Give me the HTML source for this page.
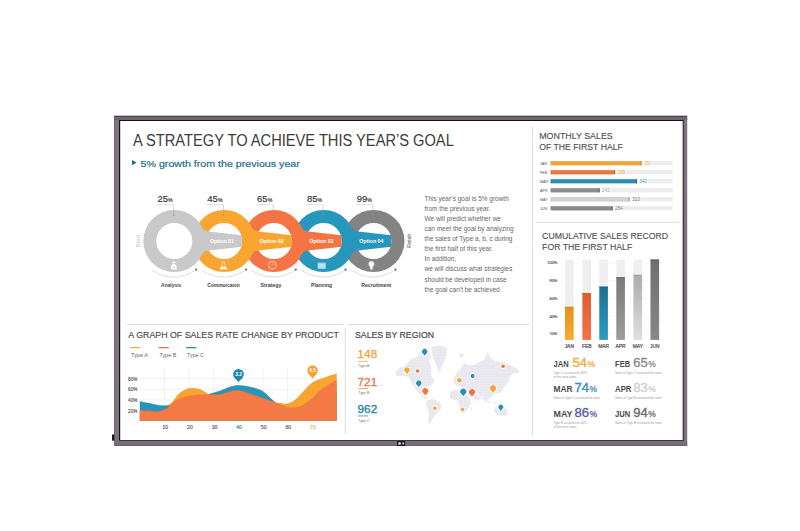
<!DOCTYPE html>
<html><head><meta charset="utf-8">
<style>
html,body{margin:0;padding:0;background:#fff;width:800px;height:531px;overflow:hidden}
svg{display:block;font-family:"Liberation Sans",sans-serif}
</style></head><body>
<svg width="800" height="531" viewBox="0 0 800 531">
<rect x="114" y="115.8" width="573.2" height="330.2" fill="#7e737f"/>
<rect x="114" y="115.8" width="573.2" height="1.3" fill="#4d434c"/>
<rect x="114" y="117.1" width="573.2" height="3" fill="#6f6470"/>
<rect x="114" y="120" width="1" height="326" fill="#6e646e"/>
<rect x="114" y="445.4" width="573.2" height=".6" fill="#5a4e58"/>
<rect x="119" y="120" width="564.6" height="321" fill="#141214"/>
<rect x="119" y="440" width="564.6" height="1" fill="#3d353d"/>
<rect x="114" y="441" width="573.2" height="4.4" fill="#776c77"/>
<rect x="120.2" y="121" width="562.5" height="319" fill="#fff"/>
<rect x="112" y="434.5" width="2.3" height="6.2" fill="#1a1a1a"/>
<rect x="397" y="441.1" width="8.2" height="4.8" rx=".6" fill="#1e1a1e"/>
<circle cx="399.6" cy="443.5" r="1.35" fill="#f4f0f4"/>
<circle cx="403.2" cy="443.5" r="1.15" fill="#b8b0b8"/>
<g stroke="#dcdcdc" stroke-width="1" fill="none">
<line x1="532.5" y1="126.5" x2="532.5" y2="435"/>
<line x1="126.6" y1="324.5" x2="343.7" y2="324.5"/><line x1="348" y1="324.5" x2="529.5" y2="324.5"/>
<line x1="345.3" y1="327.5" x2="345.3" y2="434"/>
<line x1="535" y1="222.3" x2="681" y2="222.3"/>
</g>
<text x="133" y="145.7" font-size="15.8" fill="#3c3c3c" textLength="320.8" lengthAdjust="spacingAndGlyphs">A STRATEGY TO ACHIEVE THIS YEAR’S GOAL</text>
<path d="M132 160 L136.6 162.6 L132 165.3Z" fill="#1d6a86"/>
<text x="140.6" y="166.6" font-size="9.7" fill="#236f8a" stroke="#236f8a" stroke-width=".2" textLength="159.2" lengthAdjust="spacingAndGlyphs">5% growth from the previous year</text>
<g font-size="7" fill="#666" transform="translate(424.5 0) scale(0.925 1) translate(-424.5 0)">
<text x="424.5" y="201.20">This year’s goal is 5% growth</text>
<text x="424.5" y="211.24">from the previous year.</text>
<text x="424.5" y="221.28">We will predict whether we</text>
<text x="424.5" y="231.32">can meet the goal by analyzing</text>
<text x="424.5" y="241.36">the sales of Type a, b, c during</text>
<text x="424.5" y="251.40">the first half of this year.</text>
<text x="424.5" y="261.44">In addition,</text>
<text x="424.5" y="271.48">we will discuss what strategies</text>
<text x="424.5" y="281.52">should be developed in case</text>
<text x="424.5" y="291.56">the goal can’t be achieved.</text>
</g>
<path d="M342.50 241a31 31 0 1 0 62 0a31 31 0 1 0 -62 0ZM355.50 241a18 18 0 1 1 36 0a18 18 0 1 1 -36 0Z" fill="#838383" fill-rule="evenodd"/>
<path d="M292.70 241a31 31 0 1 0 62 0a31 31 0 1 0 -62 0ZM305.70 241a18 18 0 1 1 36 0a18 18 0 1 1 -36 0Z" fill="#2797be" fill-rule="evenodd"/>
<path d="M342.70 229.76L391.30 235.25L391.30 246.75L342.70 252.24Z" fill="#2797be"/>
<path d="M351.97 228.29A4.5 4.5 0 0 0 356.08 230.94L356.08 241L343.70 241Z" fill="#2797be"/>
<path d="M351.97 253.71A4.5 4.5 0 0 1 356.08 251.06L356.08 241L343.70 241Z" fill="#2797be"/>
<path d="M242.90 241a31 31 0 1 0 62 0a31 31 0 1 0 -62 0ZM255.90 241a18 18 0 1 1 36 0a18 18 0 1 1 -36 0Z" fill="#f47443" fill-rule="evenodd"/>
<path d="M292.90 229.76L341.50 235.25L341.50 246.75L292.90 252.24Z" fill="#f47443"/>
<path d="M302.17 228.29A4.5 4.5 0 0 0 306.28 230.94L306.28 241L293.90 241Z" fill="#f47443"/>
<path d="M302.17 253.71A4.5 4.5 0 0 1 306.28 251.06L306.28 241L293.90 241Z" fill="#f47443"/>
<path d="M193.10 241a31 31 0 1 0 62 0a31 31 0 1 0 -62 0ZM206.10 241a18 18 0 1 1 36 0a18 18 0 1 1 -36 0Z" fill="#f9a532" fill-rule="evenodd"/>
<path d="M243.10 229.76L291.70 235.25L291.70 246.75L243.10 252.24Z" fill="#f9a532"/>
<path d="M252.37 228.29A4.5 4.5 0 0 0 256.48 230.94L256.48 241L244.10 241Z" fill="#f9a532"/>
<path d="M252.37 253.71A4.5 4.5 0 0 1 256.48 251.06L256.48 241L244.10 241Z" fill="#f9a532"/>
<path d="M143.30 241a31 31 0 1 0 62 0a31 31 0 1 0 -62 0ZM156.30 241a18 18 0 1 1 36 0a18 18 0 1 1 -36 0Z" fill="#c9c9c9" fill-rule="evenodd"/>
<path d="M193.30 229.76L241.90 235.25L241.90 246.75L193.30 252.24Z" fill="#c9c9c9"/>
<path d="M202.57 228.29A4.5 4.5 0 0 0 206.68 230.94L206.68 241L194.30 241Z" fill="#c9c9c9"/>
<path d="M202.57 253.71A4.5 4.5 0 0 1 206.68 251.06L206.68 241L194.30 241Z" fill="#c9c9c9"/>
<text x="209.90" y="243.20" font-size="6.2" fill="#fff" font-weight="bold" textLength="24" lengthAdjust="spacingAndGlyphs">Option 01</text>
<text x="259.70" y="243.20" font-size="6.2" fill="#fff" font-weight="bold" textLength="24" lengthAdjust="spacingAndGlyphs">Option 02</text>
<text x="309.50" y="243.20" font-size="6.2" fill="#fff" font-weight="bold" textLength="24" lengthAdjust="spacingAndGlyphs">Option 03</text>
<text x="359.30" y="243.20" font-size="6.2" fill="#fff" font-weight="bold" textLength="24" lengthAdjust="spacingAndGlyphs">Option 04</text>
<g fill="#fff">
<ellipse cx="173.80" cy="262.4" rx="1.8" ry="0.85"/>
<path d="M172.90 263.9 C170.70 265 170.50 268 171.20 269.4 L176.40 269.4 C177.10 268 176.90 265 174.70 263.9Z"/>
</g>
<text x="173.80" y="268.6" font-size="3.2" fill="#c9c9c9" text-anchor="middle">$</text>
<g fill="#fff" opacity=".92">
<path d="M222.30 261.9H224.50V264.2L226.70 269.1H220.10L222.30 264.2Z" fill="none" stroke="#fff" stroke-width=".6"/>
<path d="M221.20 266.5H225.60L226.70 269.1H220.10Z"/>
</g>
<g stroke="#ffd9c6" fill="none" stroke-width=".9">
<circle cx="272.30" cy="265.2" r="3.9"/>
<path d="M272.30 262.7V265.4L270.90 266.6" stroke-width=".6"/>
</g>
<rect x="317.80" y="262.8" width="7.8" height="5.9" fill="#c3e8f4"/>
<rect x="317.80" y="262.8" width="7.8" height="0.9" fill="#8fd0e6"/>
<g stroke="#9ed7ea" stroke-width=".35"><path d="M320.40 264V268.5M323.00 264V268.5M317.80 265.8H325.60M317.80 267.3H325.60"/></g>
<g fill="#fff">
<circle cx="371.40" cy="264.1" r="2.8"/>
<rect x="370.20" y="266.2" width="2.4" height="3.3" rx=".5"/>
</g>
<g stroke="#bbb" stroke-width=".45"><path d="M371.40 260V260.9M367.90 262L368.50 262.5M374.90 262L374.30 262.5M367.20 264.5H367.90M375.60 264.5H374.90"/></g>
<text x="157.50" y="202.2" font-size="8.7" fill="#333" stroke="#333" stroke-width=".15" textLength="10.5" lengthAdjust="spacingAndGlyphs">25</text>
<text x="168.10" y="202.3" font-size="5" fill="#333" stroke="#333" stroke-width=".15" textLength="4.6" lengthAdjust="spacingAndGlyphs">%</text>
<path d="M156.70 204.6H173.70" stroke="#999" stroke-width=".5" fill="none" stroke-dasharray=".7 .5"/>
<path d="M173.70 204.6V215" stroke="#a0a0a0" stroke-width=".45" fill="none"/>
<circle cx="173.70" cy="215" r=".9" fill="#888" opacity=".5"/>
<path d="M152.30 270.4Q174.30 284 196.30 269.6" stroke="#888" stroke-width=".6" fill="none" stroke-dasharray=".8 .8"/>
<path d="M194.80 268.6L197.60 268.9L196.10 271.3Z" fill="#666"/>
<text x="161.10" y="286.8" font-size="5.5" fill="#444" font-weight="bold" textLength="20.2" lengthAdjust="spacingAndGlyphs">Analysis</text>
<text x="207.30" y="202.2" font-size="8.7" fill="#333" stroke="#333" stroke-width=".15" textLength="10.5" lengthAdjust="spacingAndGlyphs">45</text>
<text x="217.90" y="202.3" font-size="5" fill="#333" stroke="#333" stroke-width=".15" textLength="4.6" lengthAdjust="spacingAndGlyphs">%</text>
<path d="M206.50 204.6H223.50" stroke="#999" stroke-width=".5" fill="none" stroke-dasharray=".7 .5"/>
<path d="M223.50 204.6V215" stroke="#a0a0a0" stroke-width=".45" fill="none"/>
<circle cx="223.50" cy="215" r=".9" fill="#888" opacity=".5"/>
<path d="M202.10 270.4Q224.10 284 246.10 269.6" stroke="#888" stroke-width=".6" fill="none" stroke-dasharray=".8 .8"/>
<path d="M244.60 268.6L247.40 268.9L245.90 271.3Z" fill="#666"/>
<text x="207.20" y="286.8" font-size="5.5" fill="#444" font-weight="bold" textLength="32.7" lengthAdjust="spacingAndGlyphs">Commuicaion</text>
<text x="257.10" y="202.2" font-size="8.7" fill="#333" stroke="#333" stroke-width=".15" textLength="10.5" lengthAdjust="spacingAndGlyphs">65</text>
<text x="267.70" y="202.3" font-size="5" fill="#333" stroke="#333" stroke-width=".15" textLength="4.6" lengthAdjust="spacingAndGlyphs">%</text>
<path d="M256.30 204.6H273.30" stroke="#999" stroke-width=".5" fill="none" stroke-dasharray=".7 .5"/>
<path d="M273.30 204.6V215" stroke="#a0a0a0" stroke-width=".45" fill="none"/>
<circle cx="273.30" cy="215" r=".9" fill="#888" opacity=".5"/>
<path d="M251.90 270.4Q273.90 284 295.90 269.6" stroke="#888" stroke-width=".6" fill="none" stroke-dasharray=".8 .8"/>
<path d="M294.40 268.6L297.20 268.9L295.70 271.3Z" fill="#666"/>
<text x="260.40" y="286.8" font-size="5.5" fill="#444" font-weight="bold" textLength="21" lengthAdjust="spacingAndGlyphs">Strategy</text>
<text x="306.90" y="202.2" font-size="8.7" fill="#333" stroke="#333" stroke-width=".15" textLength="10.5" lengthAdjust="spacingAndGlyphs">85</text>
<text x="317.50" y="202.3" font-size="5" fill="#333" stroke="#333" stroke-width=".15" textLength="4.6" lengthAdjust="spacingAndGlyphs">%</text>
<path d="M306.10 204.6H323.10" stroke="#999" stroke-width=".5" fill="none" stroke-dasharray=".7 .5"/>
<path d="M323.10 204.6V215" stroke="#a0a0a0" stroke-width=".45" fill="none"/>
<circle cx="323.10" cy="215" r=".9" fill="#888" opacity=".5"/>
<path d="M301.70 270.4Q323.70 284 345.70 269.6" stroke="#888" stroke-width=".6" fill="none" stroke-dasharray=".8 .8"/>
<path d="M344.20 268.6L347.00 268.9L345.50 271.3Z" fill="#666"/>
<text x="311.10" y="286.8" font-size="5.5" fill="#444" font-weight="bold" textLength="21" lengthAdjust="spacingAndGlyphs">Planning</text>
<text x="356.70" y="202.2" font-size="8.7" fill="#333" stroke="#333" stroke-width=".15" textLength="10.5" lengthAdjust="spacingAndGlyphs">99</text>
<text x="367.30" y="202.3" font-size="5" fill="#333" stroke="#333" stroke-width=".15" textLength="4.6" lengthAdjust="spacingAndGlyphs">%</text>
<path d="M355.90 204.6H372.90" stroke="#999" stroke-width=".5" fill="none" stroke-dasharray=".7 .5"/>
<path d="M372.90 204.6V215" stroke="#a0a0a0" stroke-width=".45" fill="none"/>
<circle cx="372.90" cy="215" r=".9" fill="#888" opacity=".5"/>
<path d="M351.50 270.4Q373.50 284 395.50 269.6" stroke="#888" stroke-width=".6" fill="none" stroke-dasharray=".8 .8"/>
<path d="M394.00 268.6L396.80 268.9L395.30 271.3Z" fill="#666"/>
<text x="361.20" y="286.8" font-size="5.5" fill="#444" font-weight="bold" textLength="30.1" lengthAdjust="spacingAndGlyphs">Recruitment</text>
<text transform="translate(139.9 240.9) rotate(-90)" font-size="5.6" font-weight="bold" fill="#cdcdcd" text-anchor="middle" textLength="13.1" lengthAdjust="spacingAndGlyphs">Start</text>
<text transform="translate(411.2 240.8) rotate(-90)" font-size="5.9" font-weight="bold" fill="#7a7a7a" text-anchor="middle" textLength="13.9" lengthAdjust="spacingAndGlyphs">Finish</text>
<text x="539.2" y="139.4" font-size="9.1" fill="#4e4e4e" stroke="#4e4e4e" stroke-width=".12" textLength="73.6" lengthAdjust="spacingAndGlyphs">MONTHLY SALES</text>
<text x="539.2" y="150.1" font-size="9.1" fill="#4e4e4e" stroke="#4e4e4e" stroke-width=".12" textLength="83.7" lengthAdjust="spacingAndGlyphs">OF THE FIRST HALF</text>
<rect x="550.6" y="161.10" width="122.0" height="4.2" fill="#ececec"/>
<rect x="641.80" y="161.10" width="10.5" height="4.2" fill="#fff"/>
<rect x="550.85" y="161.35" width="90.40" height="3.7" fill="#f8a435" stroke="#d98a22" stroke-width=".5" stroke-opacity=".6"/>
<rect x="640.40" y="161.10" width="1.1" height="4.2" fill="#d98a22"/>
<text x="644.00" y="164.80" font-size="4.6" fill="#e6b36a">358</text>
<text x="540" y="164.50" font-size="3.7" fill="#555">JAN</text>
<rect x="550.6" y="170.12" width="122.0" height="4.2" fill="#ececec"/>
<rect x="615.40" y="170.12" width="10.5" height="4.2" fill="#fff"/>
<rect x="550.85" y="170.37" width="64.00" height="3.7" fill="#f4733f" stroke="#d85a2a" stroke-width=".5" stroke-opacity=".6"/>
<rect x="614.00" y="170.12" width="1.1" height="4.2" fill="#d85a2a"/>
<text x="617.60" y="173.82" font-size="4.6" fill="#ec8c64">289</text>
<text x="540" y="173.52" font-size="3.7" fill="#555">FEB</text>
<rect x="550.6" y="179.14" width="122.0" height="4.2" fill="#ececec"/>
<rect x="637.30" y="179.14" width="10.5" height="4.2" fill="#fff"/>
<rect x="550.85" y="179.39" width="85.90" height="3.7" fill="#2690b6" stroke="#176e8f" stroke-width=".5" stroke-opacity=".6"/>
<rect x="635.90" y="179.14" width="1.1" height="4.2" fill="#176e8f"/>
<text x="639.50" y="182.84" font-size="4.6" fill="#3d93b8">342</text>
<text x="540" y="182.54" font-size="3.7" fill="#555">MAR</text>
<rect x="550.6" y="188.16" width="122.0" height="4.2" fill="#ececec"/>
<rect x="599.90" y="188.16" width="10.5" height="4.2" fill="#fff"/>
<rect x="550.85" y="188.41" width="48.50" height="3.7" fill="#8e8e8e" stroke="#666" stroke-width=".5" stroke-opacity=".6"/>
<rect x="598.50" y="188.16" width="1.1" height="4.2" fill="#666"/>
<text x="602.10" y="191.86" font-size="4.6" fill="#999">242</text>
<text x="540" y="191.56" font-size="3.7" fill="#555">APR</text>
<rect x="550.6" y="197.18" width="122.0" height="4.2" fill="#ececec"/>
<rect x="630.10" y="197.18" width="10.5" height="4.2" fill="#fff"/>
<rect x="550.85" y="197.43" width="78.70" height="3.7" fill="#d2d2d2" stroke="#aaa" stroke-width=".5" stroke-opacity=".6"/>
<rect x="628.70" y="197.18" width="1.1" height="4.2" fill="#aaa"/>
<text x="632.30" y="200.88" font-size="4.6" fill="#666">310</text>
<text x="540" y="200.58" font-size="3.7" fill="#555">MAY</text>
<rect x="550.6" y="206.20" width="122.0" height="4.2" fill="#ececec"/>
<rect x="612.90" y="206.20" width="10.5" height="4.2" fill="#fff"/>
<rect x="550.85" y="206.45" width="61.50" height="3.7" fill="#8a8a8a" stroke="#6a6a6a" stroke-width=".5" stroke-opacity=".6"/>
<rect x="611.50" y="206.20" width="1.1" height="4.2" fill="#6a6a6a"/>
<text x="615.10" y="209.90" font-size="4.6" fill="#666">284</text>
<text x="540" y="209.60" font-size="3.7" fill="#555">JUN</text>
<text x="542.1" y="239.1" font-size="9.1" fill="#4e4e4e" stroke="#4e4e4e" stroke-width=".12" textLength="126" lengthAdjust="spacingAndGlyphs">CUMULATIVE SALES RECORD</text>
<text x="542.1" y="249.7" font-size="9.1" fill="#4e4e4e" stroke="#4e4e4e" stroke-width=".12" textLength="90.2" lengthAdjust="spacingAndGlyphs">FOR THE FIRST HALF</text>
<line x1="560" y1="262.70" x2="666" y2="262.70" stroke="#eee" stroke-width=".6" stroke-dasharray="1.5 1"/>
<text x="557.3" y="264.00" font-size="3.9" fill="#444" stroke="#444" stroke-width=".12" text-anchor="end">100%</text>
<line x1="560" y1="280.55" x2="666" y2="280.55" stroke="#eee" stroke-width=".6" stroke-dasharray="1.5 1"/>
<text x="557.3" y="281.85" font-size="3.9" fill="#444" stroke="#444" stroke-width=".12" text-anchor="end">80%</text>
<line x1="560" y1="298.40" x2="666" y2="298.40" stroke="#eee" stroke-width=".6" stroke-dasharray="1.5 1"/>
<text x="557.3" y="299.70" font-size="3.9" fill="#444" stroke="#444" stroke-width=".12" text-anchor="end">60%</text>
<line x1="560" y1="316.25" x2="666" y2="316.25" stroke="#eee" stroke-width=".6" stroke-dasharray="1.5 1"/>
<text x="557.3" y="317.55" font-size="3.9" fill="#444" stroke="#444" stroke-width=".12" text-anchor="end">40%</text>
<line x1="560" y1="334.10" x2="666" y2="334.10" stroke="#eee" stroke-width=".6" stroke-dasharray="1.5 1"/>
<text x="557.3" y="335.40" font-size="3.9" fill="#444" stroke="#444" stroke-width=".12" text-anchor="end">20%</text>
<defs>
<linearGradient id="cg0" x1="0" y1="0" x2="0" y2="1"><stop offset="0" stop-color="#e2921f"/><stop offset="1" stop-color="#fbaa2c"/></linearGradient>
<linearGradient id="cg1" x1="0" y1="0" x2="0" y2="1"><stop offset="0" stop-color="#db5e31"/><stop offset="1" stop-color="#f57343"/></linearGradient>
<linearGradient id="cg2" x1="0" y1="0" x2="0" y2="1"><stop offset="0" stop-color="#1d6f90"/><stop offset="1" stop-color="#2a9dc2"/></linearGradient>
<linearGradient id="cg3" x1="0" y1="0" x2="0" y2="1"><stop offset="0" stop-color="#7a7a7a"/><stop offset="1" stop-color="#9c9c9c"/></linearGradient>
<linearGradient id="cg4" x1="0" y1="0" x2="0" y2="1"><stop offset="0" stop-color="#ababab"/><stop offset="1" stop-color="#e0e0e0"/></linearGradient>
<linearGradient id="cg5" x1="0" y1="0" x2="0" y2="1"><stop offset="0" stop-color="#6e6e6e"/><stop offset="1" stop-color="#888888"/></linearGradient>
</defs>
<rect x="565" y="259.6" width="8.6" height="80.3" fill="#efefef"/>
<rect x="565" y="306.5" width="8.6" height="33.4" fill="url(#cg0)"/>
<rect x="565" y="306.5" width="8.6" height="1" fill="#d0851a"/>
<rect x="565" y="305.8" width="8.6" height=".7" fill="#fff" opacity=".9"/>
<text x="569.30" y="347.5" font-size="4.9" fill="#555" stroke="#555" stroke-width=".22" text-anchor="middle">JAN</text>
<rect x="582.4" y="259.6" width="8.6" height="80.3" fill="#efefef"/>
<rect x="582.4" y="292.8" width="8.6" height="47.1" fill="url(#cg1)"/>
<rect x="582.4" y="292.8" width="8.6" height="1" fill="#cf5a2e"/>
<rect x="582.4" y="292.1" width="8.6" height=".7" fill="#fff" opacity=".9"/>
<text x="586.70" y="347.5" font-size="4.9" fill="#555" stroke="#555" stroke-width=".22" text-anchor="middle">FEB</text>
<rect x="599.3" y="259.6" width="8.6" height="80.3" fill="#efefef"/>
<rect x="599.3" y="286.4" width="8.6" height="53.5" fill="url(#cg2)"/>
<rect x="599.3" y="286.4" width="8.6" height="1" fill="#185f7c"/>
<rect x="599.3" y="285.7" width="8.6" height=".7" fill="#fff" opacity=".9"/>
<text x="603.60" y="347.5" font-size="4.9" fill="#555" stroke="#555" stroke-width=".22" text-anchor="middle">MAR</text>
<rect x="616.3" y="259.6" width="8.6" height="80.3" fill="#efefef"/>
<rect x="616.3" y="276.9" width="8.6" height="63.0" fill="url(#cg3)"/>
<rect x="616.3" y="276.9" width="8.6" height="1" fill="#6a6a6a"/>
<rect x="616.3" y="276.2" width="8.6" height=".7" fill="#fff" opacity=".9"/>
<text x="620.60" y="347.5" font-size="4.9" fill="#555" stroke="#555" stroke-width=".22" text-anchor="middle">APR</text>
<rect x="633.5" y="259.6" width="8.6" height="80.3" fill="#efefef"/>
<rect x="633.5" y="274.5" width="8.6" height="65.4" fill="url(#cg4)"/>
<rect x="633.5" y="274.5" width="8.6" height="1" fill="#a0a0a0"/>
<rect x="633.5" y="273.8" width="8.6" height=".7" fill="#fff" opacity=".9"/>
<text x="637.80" y="347.5" font-size="4.9" fill="#555" stroke="#555" stroke-width=".22" text-anchor="middle">MAY</text>
<rect x="650.5" y="259.6" width="8.6" height="80.3" fill="#efefef"/>
<rect x="650.5" y="259.6" width="8.6" height="80.3" fill="url(#cg5)"/>
<rect x="650.5" y="259.6" width="8.6" height="1" fill="#5e5e5e"/>
<text x="654.80" y="347.5" font-size="4.9" fill="#555" stroke="#555" stroke-width=".22" text-anchor="middle">JUN</text>
<text x="553.5" y="366.6" font-size="8.2" font-weight="bold" fill="#4a4a4a" textLength="15.1" lengthAdjust="spacingAndGlyphs">JAN</text>
<text x="572.5" y="366.6" font-size="13" fill="#f6a93c" stroke="#f6a93c" stroke-width=".35" textLength="14.5" lengthAdjust="spacingAndGlyphs">54</text>
<text x="587.5" y="366.6" font-size="8.5" fill="#f6a93c" stroke="#f6a93c" stroke-width=".25" textLength="7.6" lengthAdjust="spacingAndGlyphs">%</text>
<text x="553.5" y="373.50" font-size="3.3" fill="#999" textLength="33.3" lengthAdjust="spacingAndGlyphs">Type C accounts for 30%</text>
<text x="553.5" y="377.60" font-size="3.3" fill="#999" textLength="23.8" lengthAdjust="spacingAndGlyphs">of the total sales.</text>
<text x="615.1" y="366.6" font-size="8.2" font-weight="bold" fill="#4a4a4a" textLength="15.1" lengthAdjust="spacingAndGlyphs">FEB</text>
<text x="633.3" y="366.6" font-size="13" fill="#8a8a8a" stroke="#8a8a8a" stroke-width=".35" textLength="14.5" lengthAdjust="spacingAndGlyphs">65</text>
<text x="648.3" y="366.6" font-size="8.5" fill="#8a8a8a" stroke="#8a8a8a" stroke-width=".25" textLength="7.6" lengthAdjust="spacingAndGlyphs">%</text>
<text x="615.1" y="373.50" font-size="3.3" fill="#999" textLength="47.2" lengthAdjust="spacingAndGlyphs">Sales of Type C increased the most.</text>
<text x="553.5" y="391.9" font-size="8.2" font-weight="bold" fill="#4a4a4a" textLength="19" lengthAdjust="spacingAndGlyphs">MAR</text>
<text x="574.6" y="391.9" font-size="13" fill="#3b8db6" stroke="#3b8db6" stroke-width=".35" textLength="14.5" lengthAdjust="spacingAndGlyphs">74</text>
<text x="589.6" y="391.9" font-size="8.5" fill="#3b8db6" stroke="#3b8db6" stroke-width=".25" textLength="7.6" lengthAdjust="spacingAndGlyphs">%</text>
<text x="553.5" y="398.80" font-size="3.3" fill="#999" textLength="47.2" lengthAdjust="spacingAndGlyphs">Sales of Type C increased the most.</text>
<text x="615.1" y="391.9" font-size="8.2" font-weight="bold" fill="#4a4a4a" textLength="16.3" lengthAdjust="spacingAndGlyphs">APR</text>
<text x="633.3" y="391.9" font-size="13" fill="#cfcfcf" stroke="#cfcfcf" stroke-width=".35" textLength="14.5" lengthAdjust="spacingAndGlyphs">83</text>
<text x="648.3" y="391.9" font-size="8.5" fill="#cfcfcf" stroke="#cfcfcf" stroke-width=".25" textLength="7.6" lengthAdjust="spacingAndGlyphs">%</text>
<text x="615.1" y="398.80" font-size="3.3" fill="#999" textLength="47.2" lengthAdjust="spacingAndGlyphs">Sales of Type B increased the most.</text>
<text x="553.5" y="417.3" font-size="8.2" font-weight="bold" fill="#4a4a4a" textLength="19" lengthAdjust="spacingAndGlyphs">MAY</text>
<text x="574.6" y="417.3" font-size="13" fill="#5a5a9c" stroke="#5a5a9c" stroke-width=".35" textLength="14.5" lengthAdjust="spacingAndGlyphs">86</text>
<text x="589.6" y="417.3" font-size="8.5" fill="#5a5a9c" stroke="#5a5a9c" stroke-width=".25" textLength="7.6" lengthAdjust="spacingAndGlyphs">%</text>
<text x="553.5" y="424.20" font-size="3.3" fill="#999" textLength="33.3" lengthAdjust="spacingAndGlyphs">Type B accounts for 40%</text>
<text x="553.5" y="428.30" font-size="3.3" fill="#999" textLength="23.8" lengthAdjust="spacingAndGlyphs">of the total sales.</text>
<text x="615.1" y="417.3" font-size="8.2" font-weight="bold" fill="#4a4a4a" textLength="15.1" lengthAdjust="spacingAndGlyphs">JUN</text>
<text x="633.3" y="417.3" font-size="13" fill="#6a6a6a" stroke="#6a6a6a" stroke-width=".35" textLength="14.5" lengthAdjust="spacingAndGlyphs">94</text>
<text x="648.3" y="417.3" font-size="8.5" fill="#6a6a6a" stroke="#6a6a6a" stroke-width=".25" textLength="7.6" lengthAdjust="spacingAndGlyphs">%</text>
<text x="615.1" y="424.20" font-size="3.3" fill="#999" textLength="47.2" lengthAdjust="spacingAndGlyphs">Sales of Type B increased the most.</text>
<text x="128.3" y="337.9" font-size="9.2" fill="#4a4a4a" stroke="#4a4a4a" stroke-width=".15" textLength="210.5" lengthAdjust="spacingAndGlyphs">A GRAPH OF SALES RATE CHANGE BY PRODUCT</text>
<rect x="130.2" y="347" width="10.2" height="1.3" fill="#f2ad4c"/>
<text x="131.0" y="356.6" font-size="6" fill="#666" textLength="16.9" lengthAdjust="spacingAndGlyphs">Type A</text>
<rect x="158.6" y="347" width="10.2" height="1.3" fill="#ea7448"/>
<text x="159.4" y="356.6" font-size="6" fill="#666" textLength="16.9" lengthAdjust="spacingAndGlyphs">Type B</text>
<rect x="186.2" y="347" width="10.2" height="1.3" fill="#2b8db0"/>
<text x="187.0" y="356.6" font-size="6" fill="#666" textLength="16.9" lengthAdjust="spacingAndGlyphs">Type C</text>
<line x1="139.8" y1="378.7" x2="336.7" y2="378.7" stroke="#e4e4e4" stroke-width=".5"/>
<text x="128.1" y="380.6" font-size="5.1" fill="#4a4a4a" stroke="#4a4a4a" stroke-width=".12" textLength="9.3" lengthAdjust="spacingAndGlyphs">80%</text>
<line x1="139.8" y1="389.3" x2="336.7" y2="389.3" stroke="#e4e4e4" stroke-width=".5"/>
<text x="128.1" y="391.2" font-size="5.1" fill="#4a4a4a" stroke="#4a4a4a" stroke-width=".12" textLength="9.3" lengthAdjust="spacingAndGlyphs">60%</text>
<line x1="139.8" y1="400.0" x2="336.7" y2="400.0" stroke="#e4e4e4" stroke-width=".5"/>
<text x="128.1" y="401.9" font-size="5.1" fill="#4a4a4a" stroke="#4a4a4a" stroke-width=".12" textLength="9.3" lengthAdjust="spacingAndGlyphs">40%</text>
<line x1="139.8" y1="410.7" x2="336.7" y2="410.7" stroke="#e4e4e4" stroke-width=".5"/>
<text x="128.1" y="412.6" font-size="5.1" fill="#4a4a4a" stroke="#4a4a4a" stroke-width=".12" textLength="9.3" lengthAdjust="spacingAndGlyphs">20%</text>
<line x1="164.6" y1="367.5" x2="164.6" y2="420.8" stroke="#e4e4e4" stroke-width=".5"/>
<text x="165.3" y="428.5" font-size="5.1" fill="#555" stroke="#555" stroke-width=".15" text-anchor="middle">10</text>
<line x1="189.2" y1="367.5" x2="189.2" y2="420.8" stroke="#e4e4e4" stroke-width=".5"/>
<text x="189.9" y="428.5" font-size="5.1" fill="#555" stroke="#555" stroke-width=".15" text-anchor="middle">20</text>
<line x1="213.8" y1="367.5" x2="213.8" y2="420.8" stroke="#e4e4e4" stroke-width=".5"/>
<text x="214.5" y="428.5" font-size="5.1" fill="#555" stroke="#555" stroke-width=".15" text-anchor="middle">30</text>
<line x1="238.4" y1="367.5" x2="238.4" y2="420.8" stroke="#e4e4e4" stroke-width=".5"/>
<text x="239.1" y="428.5" font-size="5.1" fill="#2b8db0" stroke="#2b8db0" stroke-width=".15" text-anchor="middle">40</text>
<line x1="263.0" y1="367.5" x2="263.0" y2="420.8" stroke="#e4e4e4" stroke-width=".5"/>
<text x="263.7" y="428.5" font-size="5.1" fill="#555" stroke="#555" stroke-width=".15" text-anchor="middle">50</text>
<line x1="287.6" y1="367.5" x2="287.6" y2="420.8" stroke="#e4e4e4" stroke-width=".5"/>
<text x="288.3" y="428.5" font-size="5.1" fill="#555" stroke="#555" stroke-width=".15" text-anchor="middle">60</text>
<line x1="312.2" y1="367.5" x2="312.2" y2="420.8" stroke="#e4e4e4" stroke-width=".5"/>
<text x="312.9" y="428.5" font-size="5.1" fill="#f2ad4c" stroke="#f2ad4c" stroke-width=".15" text-anchor="middle">70</text>
<path d="M139.80 412.00C141.50 411.83 146.63 411.50 150.00 411.00C153.37 410.50 157.17 409.83 160.00 409.00C162.83 408.17 164.88 407.18 167.00 406.00C169.12 404.82 170.72 403.90 172.70 401.90C174.68 399.90 176.57 396.12 178.90 394.00C181.23 391.88 184.37 390.15 186.70 389.20C189.03 388.25 190.70 388.23 192.90 388.30C195.10 388.37 197.72 388.87 199.90 389.60C202.08 390.33 204.32 391.80 206.00 392.70C207.68 393.60 207.67 394.28 210.00 395.00C212.33 395.72 215.00 397.00 220.00 397.00C225.00 397.00 233.33 394.83 240.00 395.00C246.67 395.17 254.67 396.73 260.00 398.00C265.33 399.27 268.67 401.73 272.00 402.60C275.33 403.47 277.53 402.97 280.00 403.20C282.47 403.43 284.35 404.47 286.80 404.00C289.25 403.53 292.07 402.32 294.70 400.40C297.33 398.48 300.35 394.85 302.60 392.50C304.85 390.15 306.32 388.08 308.20 386.30C310.08 384.52 312.02 382.93 313.90 381.80C315.78 380.67 317.23 380.35 319.50 379.50C321.77 378.65 324.63 377.65 327.50 376.70C330.37 375.75 335.17 374.28 336.70 373.80L336.7 420.8L139.8 420.8Z" fill="#f8a431"/>
<path d="M139.80 412.00C141.50 411.83 146.63 411.50 150.00 411.00C153.37 410.50 157.17 409.83 160.00 409.00C162.83 408.17 164.88 407.18 167.00 406.00C169.12 404.82 170.72 403.90 172.70 401.90C174.68 399.90 176.57 396.12 178.90 394.00C181.23 391.88 184.37 390.15 186.70 389.20C189.03 388.25 190.70 388.23 192.90 388.30C195.10 388.37 197.72 388.87 199.90 389.60C202.08 390.33 204.32 391.80 206.00 392.70C207.68 393.60 207.67 394.28 210.00 395.00C212.33 395.72 215.00 397.00 220.00 397.00C225.00 397.00 233.33 394.83 240.00 395.00C246.67 395.17 254.67 396.73 260.00 398.00C265.33 399.27 268.67 401.73 272.00 402.60C275.33 403.47 277.53 402.97 280.00 403.20C282.47 403.43 284.35 404.47 286.80 404.00C289.25 403.53 292.07 402.32 294.70 400.40C297.33 398.48 300.35 394.85 302.60 392.50C304.85 390.15 306.32 388.08 308.20 386.30C310.08 384.52 312.02 382.93 313.90 381.80C315.78 380.67 317.23 380.35 319.50 379.50C321.77 378.65 324.63 377.65 327.50 376.70C330.37 375.75 335.17 374.28 336.70 373.80" fill="none" stroke="#e8942a" stroke-width=".5"/>
<path d="M139.80 401.50C141.50 401.85 146.85 402.95 150.00 403.60C153.15 404.25 155.78 405.03 158.70 405.40C161.62 405.77 165.28 405.70 167.50 405.80C169.72 405.90 169.92 406.30 172.00 406.00C174.08 405.70 177.00 405.17 180.00 404.00C183.00 402.83 186.67 400.17 190.00 399.00C193.33 397.83 197.33 397.50 200.00 397.00C202.67 396.50 204.33 396.50 206.00 396.00C207.67 395.50 207.67 394.83 210.00 394.00C212.33 393.17 216.67 392.17 220.00 391.00C223.33 389.83 226.83 387.92 230.00 387.00C233.17 386.08 235.67 385.50 239.00 385.50C242.33 385.50 246.50 386.25 250.00 387.00C253.50 387.75 257.33 388.83 260.00 390.00C262.67 391.17 263.67 392.08 266.00 394.00C268.33 395.92 271.67 399.50 274.00 401.50C276.33 403.50 277.33 404.58 280.00 406.00C282.67 407.42 285.00 410.00 290.00 410.00C295.00 410.00 302.22 409.00 310.00 406.00C317.78 403.00 332.25 394.33 336.70 392.00L336.7 420.8L139.8 420.8Z" fill="#2795b9"/>
<path d="M139.80 401.50C141.50 401.85 146.85 402.95 150.00 403.60C153.15 404.25 155.78 405.03 158.70 405.40C161.62 405.77 165.28 405.70 167.50 405.80C169.72 405.90 169.92 406.30 172.00 406.00C174.08 405.70 177.00 405.17 180.00 404.00C183.00 402.83 186.67 400.17 190.00 399.00C193.33 397.83 197.33 397.50 200.00 397.00C202.67 396.50 204.33 396.50 206.00 396.00C207.67 395.50 207.67 394.83 210.00 394.00C212.33 393.17 216.67 392.17 220.00 391.00C223.33 389.83 226.83 387.92 230.00 387.00C233.17 386.08 235.67 385.50 239.00 385.50C242.33 385.50 246.50 386.25 250.00 387.00C253.50 387.75 257.33 388.83 260.00 390.00C262.67 391.17 263.67 392.08 266.00 394.00C268.33 395.92 271.67 399.50 274.00 401.50C276.33 403.50 277.33 404.58 280.00 406.00C282.67 407.42 285.00 410.00 290.00 410.00C295.00 410.00 302.22 409.00 310.00 406.00C317.78 403.00 332.25 394.33 336.70 392.00" fill="none" stroke="#1f7fa0" stroke-width=".5"/>
<path d="M139.80 410.60C141.50 410.67 146.85 410.85 150.00 411.00C153.15 411.15 155.78 412.00 158.70 411.50C161.62 411.00 165.17 409.43 167.50 408.00C169.83 406.57 170.80 404.37 172.70 402.90C174.60 401.43 176.12 400.32 178.90 399.20C181.68 398.08 185.47 396.92 189.40 396.20C193.33 395.48 198.87 395.20 202.50 394.90C206.13 394.60 208.28 394.47 211.20 394.40C214.12 394.33 216.87 394.98 220.00 394.50C223.13 394.02 227.00 392.17 230.00 391.50C233.00 390.83 235.50 390.42 238.00 390.50C240.50 390.58 242.17 391.17 245.00 392.00C247.83 392.83 251.67 394.33 255.00 395.50C258.33 396.67 261.67 397.83 265.00 399.00C268.33 400.17 271.37 401.13 275.00 402.50C278.63 403.87 283.52 406.32 286.80 407.20C290.08 408.08 292.07 408.08 294.70 407.80C297.33 407.52 299.78 406.92 302.60 405.50C305.42 404.08 308.78 401.65 311.60 399.30C314.42 396.95 316.85 393.67 319.50 391.40C322.15 389.13 324.63 387.50 327.50 385.70C330.37 383.90 335.17 381.45 336.70 380.60L336.7 420.8L139.8 420.8Z" fill="#f47a45"/>
<path d="M139.80 410.60C141.50 410.67 146.85 410.85 150.00 411.00C153.15 411.15 155.78 412.00 158.70 411.50C161.62 411.00 165.17 409.43 167.50 408.00C169.83 406.57 170.80 404.37 172.70 402.90C174.60 401.43 176.12 400.32 178.90 399.20C181.68 398.08 185.47 396.92 189.40 396.20C193.33 395.48 198.87 395.20 202.50 394.90C206.13 394.60 208.28 394.47 211.20 394.40C214.12 394.33 216.87 394.98 220.00 394.50C223.13 394.02 227.00 392.17 230.00 391.50C233.00 390.83 235.50 390.42 238.00 390.50C240.50 390.58 242.17 391.17 245.00 392.00C247.83 392.83 251.67 394.33 255.00 395.50C258.33 396.67 261.67 397.83 265.00 399.00C268.33 400.17 271.37 401.13 275.00 402.50C278.63 403.87 283.52 406.32 286.80 407.20C290.08 408.08 292.07 408.08 294.70 407.80C297.33 407.52 299.78 406.92 302.60 405.50C305.42 404.08 308.78 401.65 311.60 399.30C314.42 396.95 316.85 393.67 319.50 391.40C322.15 389.13 324.63 387.50 327.50 385.70C330.37 383.90 335.17 381.45 336.70 380.60" fill="none" stroke="#f06a38" stroke-width=".5"/>
<path d="M238.50 381.90L234.70 378.14A5.4 5.4 0 1 1 242.30 378.14Z" fill="#2189ab"/>
<text x="238.50" y="375.80" font-size="4.8" fill="#fff" font-weight="bold" text-anchor="middle">3.2</text>
<path d="M312.60 378.60L308.65 373.98A5.2 5.2 0 1 1 316.55 373.98Z" fill="#f6a230"/>
<text x="312.60" y="372.10" font-size="4.8" fill="#fff" font-weight="bold" text-anchor="middle">4.5</text>
<text x="355" y="338.2" font-size="9.6" fill="#484848" stroke="#484848" stroke-width=".2" textLength="79" lengthAdjust="spacingAndGlyphs">SALES BY REGION</text>
<text x="357.6" y="358.2" font-size="11.2" fill="#f1a53a" stroke="#f1a53a" stroke-width=".3" textLength="19.6" lengthAdjust="spacingAndGlyphs">148</text>
<rect x="357.8" y="360.9" width="10.2" height=".7" fill="#f1a53a"/>
<text x="358.2" y="366.8" font-size="3.6" fill="#777">Type A</text>
<text x="357.6" y="385.7" font-size="11.2" fill="#e3774c" stroke="#e3774c" stroke-width=".3" textLength="19.6" lengthAdjust="spacingAndGlyphs">721</text>
<rect x="357.8" y="388.4" width="10.2" height=".7" fill="#e3774c"/>
<text x="358.2" y="394.3" font-size="3.6" fill="#777">Type B</text>
<text x="357.6" y="412.9" font-size="11.2" fill="#217fa2" stroke="#217fa2" stroke-width=".3" textLength="19.6" lengthAdjust="spacingAndGlyphs">962</text>
<rect x="357.8" y="415.6" width="10.2" height=".7" fill="#217fa2"/>
<text x="358.2" y="421.5" font-size="3.6" fill="#777">Type C</text>
<defs><pattern id="dots" width="1.6" height="1.6" patternUnits="userSpaceOnUse"><rect width="1.6" height="1.6" fill="#ededf2"/><rect width="1.1" height="1.1" fill="#e4e4eb"/></pattern></defs>
<path d="M395.4 372.5L398.8 368L404.4 366.3L411.2 359L418 356.7L422.5 348.8L428.2 347.6L430.4 354.4L429.3 361.2L431.5 368L430.4 373.6L432.7 378.2L435 380.4L431.5 385L425.9 387.2L422.5 389.5L423.5 393L425 396.5L427.5 398.5L426 399.5L423 397L421.4 395.1L418 391.7L414.6 387.2L411.2 382.7L409 377L404.4 375.9L399.9 375.9L396.5 375.9Z" fill="url(#dots)"/>
<path d="M431.5 352.2L431.5 346.5L439.5 345.4L447.4 347.6L446.2 355.6L442.8 364.6L439.5 372.5L437.2 368L433.8 359Z" fill="url(#dots)"/>
<path d="M425.9 402.8L427.1 400.4L431.9 398.7L436.6 400.4L441.4 404.6L440.8 408.8L437.8 412.3L434.3 415.9L431.9 420.6L429.5 424.8L428.3 420.6L428.9 413.5L427.1 407.6Z" fill="url(#dots)"/>
<path d="M452.9 382.3L454 377.8L457.4 372.1L460.8 368.7L462 365.3L465.3 363.1L468 365L473.2 365.3L478.9 362L484.5 359.7L487.9 351.8L490.2 357.4L494.7 360.8L501.5 362L508.3 364.2L515.1 367.6L519.6 371L517.3 373.2L512.8 373.2L509.4 377.8L508.3 382.3L504.9 385.7L502.6 390.2L499.2 393.6L495.8 392.5L492.5 395.8L489 400L487.9 398.1L484.5 394.7L481.2 397L477.8 393.6L474.4 392.5L470 390.5L465 389.5L460 386.5L456 385.5Z" fill="url(#dots)"/>
<path d="M458.6 354L463.1 352.9L464 356L462 357.4L459.5 357Z" fill="url(#dots)"/>
<path d="M449.7 393.3L450.9 390.9L455.6 389.8L460.4 392.1L466.3 394.5L469.9 398.1L471.1 402.8L468.7 407.6L466.3 411.1L462.8 414.1L461 412.3L459.2 405.2L458 400.4L453.3 399.8L449.7 398.1Z" fill="url(#dots)"/>
<path d="M470 392L477 394.5L481.8 398.1L477 401L473 398Z" fill="url(#dots)"/>
<path d="M481.8 396L486 395L488.5 398L486.5 402L484.5 401Z" fill="url(#dots)"/>
<path d="M470.5 407.5L472 407L472.3 410.5L470.8 411Z" fill="url(#dots)"/>
<path d="M487.5 401L491 401.5L490.5 403L487.5 402.5Z" fill="url(#dots)"/>
<path d="M493 402L497 402.5L496 404L493 403.5Z" fill="url(#dots)"/>
<path d="M494.2 411.7L494.8 407.6L498.4 405.2L503.1 405.2L506.7 409.9L507.3 414.7L503.1 416.5L497.2 414.7Z" fill="url(#dots)"/>
<circle cx="424.7" cy="352.2" r="3.7" fill="#fff" opacity=".85"/>
<path d="M424.70 355.62L422.74 353.56A2.7 2.7 0 1 1 426.66 353.56Z" fill="#2a8fb3"/>
<circle cx="407" cy="370.5" r="3.7" fill="#fff" opacity=".85"/>
<path d="M407.00 373.92L405.04 371.86A2.7 2.7 0 1 1 408.96 371.86Z" fill="#f6a535"/>
<circle cx="417.5" cy="371" r="2.8" fill="#fff" opacity=".85"/>
<circle cx="417.5" cy="371" r="1.8" fill="#ee7448"/>
<circle cx="418.8" cy="383.7" r="3.7" fill="#fff" opacity=".85"/>
<path d="M418.80 387.12L416.84 385.06A2.7 2.7 0 1 1 420.76 385.06Z" fill="#2a8fb3"/>
<circle cx="425.3" cy="391.5" r="3.9" fill="#fff" opacity=".85"/>
<path d="M425.30 395.20L423.20 393.00A2.9 2.9 0 1 1 427.40 393.00Z" fill="#ee7448"/>
<circle cx="434.8" cy="408.2" r="2.8" fill="#fff" opacity=".85"/>
<circle cx="434.8" cy="408.2" r="1.8" fill="#f0a83a"/>
<circle cx="503.1" cy="366.3" r="2.8" fill="#fff" opacity=".85"/>
<circle cx="503.1" cy="366.3" r="1.8" fill="#ee7448"/>
<circle cx="472.6" cy="376" r="3" fill="#fff" opacity=".85"/>
<circle cx="472.6" cy="376" r="2" fill="#2a8fb3"/>
<circle cx="459.3" cy="380.2" r="3.3" fill="#fff" opacity=".85"/>
<circle cx="459.3" cy="380.2" r="2.3" fill="#f6a535"/>
<circle cx="493" cy="388.6" r="4" fill="#fff" opacity=".85"/>
<path d="M493.00 392.45L490.83 390.17A3 3 0 1 1 495.17 390.17Z" fill="#f6a535"/>
<circle cx="463.3" cy="392.1" r="4" fill="#fff" opacity=".85"/>
<path d="M463.30 395.95L461.13 393.67A3 3 0 1 1 465.47 393.67Z" fill="#2a8fb3"/>
<circle cx="472" cy="392.7" r="4" fill="#fff" opacity=".85"/>
<path d="M472.00 396.55L469.83 394.27A3 3 0 1 1 474.17 394.27Z" fill="#ee7448"/>
<circle cx="462.5" cy="409.3" r="2.9" fill="#fff" opacity=".85"/>
<circle cx="462.5" cy="409.3" r="1.9" fill="#f0a83a"/>
<circle cx="500.8" cy="407.6" r="3.5" fill="#fff" opacity=".85"/>
<path d="M500.80 410.73L498.99 408.82A2.5 2.5 0 1 1 502.61 408.82Z" fill="#2a8fb3"/>
</svg>
</body></html>
